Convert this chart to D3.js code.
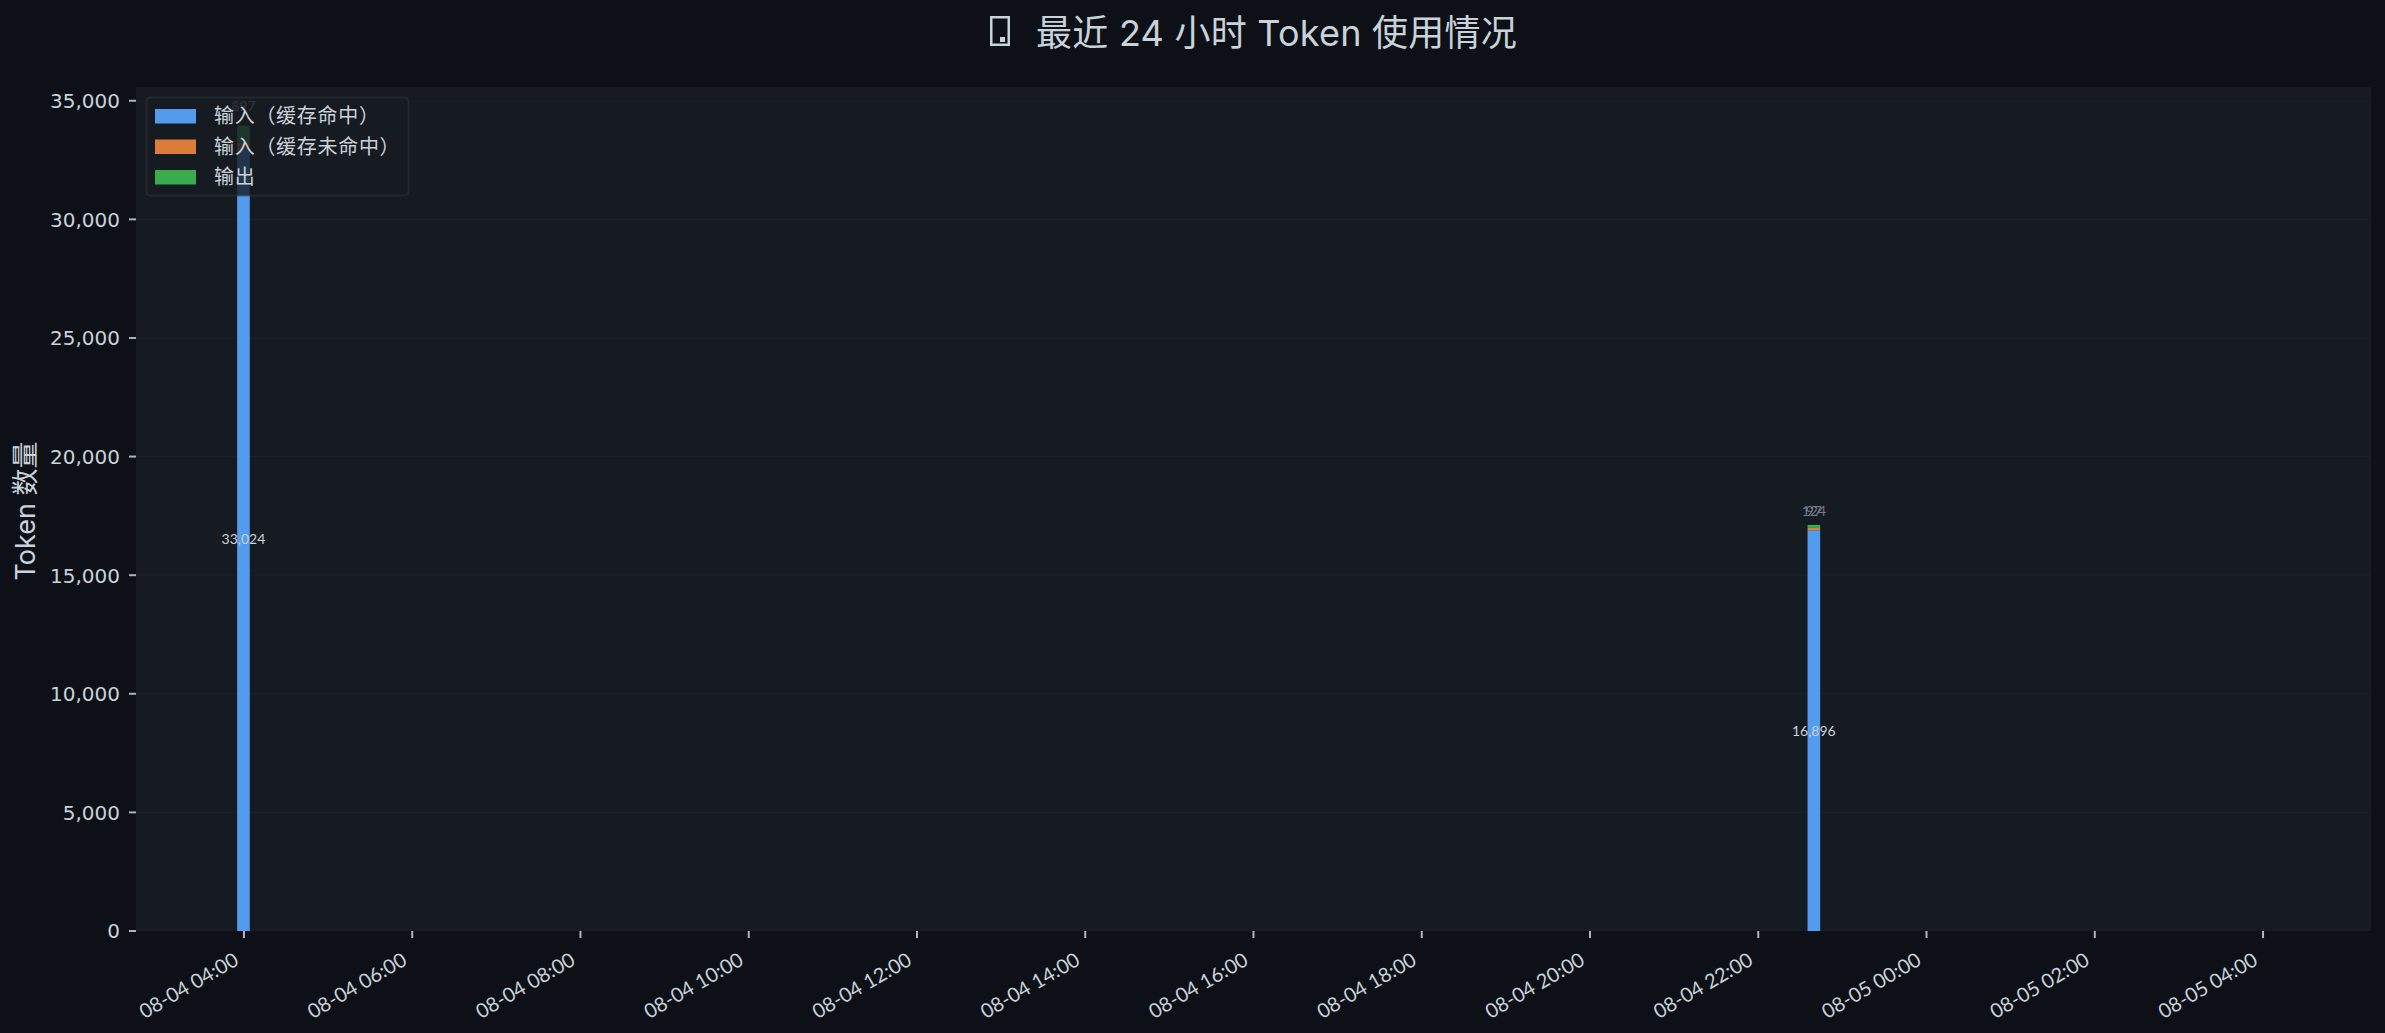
<!DOCTYPE html>
<html>
<head>
<meta charset="utf-8">
<script src="https://cdn.jsdelivr.net/npm/d3@7"></script>
<style>
  html, body { margin: 0; padding: 0; background: #0d1117; }
  svg { display: block; }
  .geo { font-family: Lato, "Noto Sans CJK SC", sans-serif; }
  .wide { font-family: Inter, "Noto Sans CJK SC", sans-serif; font-weight: 400; }
  .cjk { font-family: "DejaVu Sans", "Noto Sans CJK SC", sans-serif; }
</style>
</head>
<body>
<div id="chart"></div>
<script>
// values
const times = ["2025-08-04T04:00", "2025-08-04T22:40"];
const cacheHit = [33024, 16896];
const cacheMiss = [227, 97];
const output = [697, 124];
const seriesNames = ["输入（缓存命中）", "输入（缓存未命中）", "输出"];
const seriesKeys = ["hit", "miss", "out"];
const seriesColors = ["#539bec", "#db7c3b", "#3aac4d"];
const yTicks = [0, 5000, 10000, 15000, 20000, 25000, 30000, 35000];
const xDomain = ["2025-08-04T02:43", "2025-08-05T05:17"];
const yMax = 35580;
const barMinutes = 9.3;

const width = 2385, height = 1033;
const margin = { top: 87, right: 14, bottom: 102, left: 136 };
const parse = d3.utcParse("%Y-%m-%dT%H:%M");

const rows = times.map((t, i) => ({
  time: parse(t), hit: cacheHit[i], miss: cacheMiss[i], out: output[i]
}));

const svg = d3.select("#chart").append("svg")
  .attr("width", width)
  .attr("height", height);

const x = d3.scaleUtc()
  .domain(xDomain.map(parse))
  .range([margin.left, width - margin.right]);

const y = d3.scaleLinear()
  .domain([0, yMax])
  .range([height - margin.bottom, margin.top]);

// plot background
svg.append("rect")
  .attr("x", margin.left)
  .attr("y", margin.top)
  .attr("width", width - margin.left - margin.right)
  .attr("height", height - margin.top - margin.bottom)
  .attr("fill", "#161b22");

// grid
svg.append("g")
  .selectAll("line")
  .data(yTicks.slice(1))
  .join("line")
  .attr("x1", margin.left)
  .attr("x2", width - margin.right)
  .attr("y1", d => y(d))
  .attr("y2", d => y(d))
  .attr("stroke", "#21262d")
  .attr("stroke-opacity", 0.5)
  .attr("stroke-width", 1);

// stacked bars
const stacked = d3.stack().keys(seriesKeys)(rows);
const barW = x(d3.utcMinute.offset(x.domain()[0], barMinutes)) - x(x.domain()[0]);

svg.append("g")
  .selectAll("g")
  .data(stacked)
  .join("g")
  .attr("fill", (d, i) => seriesColors[i])
  .selectAll("rect")
  .data(d => d)
  .join("rect")
  .attr("x", d => x(d.data.time) - barW / 2 - 0.5)
  .attr("width", barW)
  .attr("y", d => y(d[1]))
  .attr("height", d => y(d[0]) - y(d[1]));

// value labels: big series in the middle of its bar, the small ones above the stack
const fmt = d3.format(",");
const labels = svg.append("g")
  .attr("class", "geo")
  .attr("text-anchor", "middle")
  .attr("font-size", 14);

labels.selectAll("text.mid")
  .data(stacked[0])
  .join("text")
  .attr("class", "mid")
  .attr("x", d => x(d.data.time) - 0.5)
  .attr("y", d => y(d[1] / 2))
  .attr("dy", "0.35em")
  .attr("fill", "#c9d1d9")
  .text(d => fmt(d[1] - d[0]));

const topOffsets = [20, 14];
[stacked[1], stacked[2]].forEach(s => {
  labels.append("g")
    .selectAll("text")
    .data(s)
    .join("text")
    .attr("x", d => x(d.data.time) - 0.5)
    .attr("y", (d, i) => y(stacked[2][i][1]) - topOffsets[i])
    .attr("dy", "0.35em")
    .attr("fill", "#8b949e")
    .attr("fill-opacity", 0.8)
    .text(d => fmt(d[1] - d[0]));
});

// axes
const yAxis = d3.axisLeft(y).tickValues(yTicks).tickFormat(fmt).tickSize(7).tickPadding(9).offset(0);
const gy = svg.append("g")
  .attr("transform", `translate(${margin.left},0)`)
  .call(yAxis);
gy.select(".domain").remove();
gy.selectAll("line").attr("stroke", "#aeb5bd").attr("stroke-width", 2);
gy.selectAll("text")
  .attr("font-family", "DejaVu Sans")
  .attr("font-size", 20)
  .attr("fill", "#c9d1d9")
  .attr("dy", "0.37em");

const xAxis = d3.axisBottom(x)
  .ticks(d3.utcHour.every(2))
  .tickFormat(d3.utcFormat("%m-%d %H:%M"))
  .tickSize(7)
  .offset(0);
const gx = svg.append("g")
  .attr("transform", `translate(0,${height - margin.bottom})`)
  .call(xAxis);
gx.select(".domain").remove();
gx.selectAll("line").attr("stroke", "#aeb5bd").attr("stroke-width", 2);
gx.selectAll("text")
  .attr("font-family", "Lato")
  .attr("font-size", 20)
  .attr("fill", "#c9d1d9")
  .attr("text-anchor", "end")
  .attr("dy", 0)
  .attr("y", 0)
  .attr("transform", "translate(-4,33) rotate(-30)");

// legend sits on top of the marks
const legend = svg.append("g");
legend.append("rect")
  .attr("x", 146.5)
  .attr("y", 97.5)
  .attr("width", 262)
  .attr("height", 98)
  .attr("rx", 4)
  .attr("fill", "#161b22")
  .attr("fill-opacity", 0.8)
  .attr("stroke", "#30363d")
  .attr("stroke-opacity", 0.5)
  .attr("stroke-width", 2);

const legendRows = legend.selectAll("g")
  .data(seriesNames)
  .join("g")
  .attr("transform", (d, i) => `translate(155,${109 + i * 30.5})`);
legendRows.append("rect")
  .attr("width", 41)
  .attr("height", 14.5)
  .attr("fill", (d, i) => seriesColors[i]);
legendRows.append("text")
  .attr("class", "cjk")
  .attr("x", 59)
  .attr("y", 7)
  .attr("dy", "0.35em")
  .attr("font-size", 20)
  .attr("letter-spacing", 0.7)
  .attr("fill", "#c9d1d9")
  .text(d => d);

// phone icon in front of the title, the font here only has a plain outline for it
const icon = svg.append("g").attr("transform", "translate(990,16)");
icon.append("rect")
  .attr("x", 1.25)
  .attr("y", 1.25)
  .attr("width", 17.5)
  .attr("height", 27.5)
  .attr("fill", "none")
  .attr("stroke", "#c9d1d9")
  .attr("stroke-width", 2.5);
icon.append("rect")
  .attr("x", 10)
  .attr("y", 21)
  .attr("width", 5)
  .attr("height", 5)
  .attr("fill", "#c9d1d9");

// titles
svg.append("text")
  .attr("class", "wide")
  .attr("x", 1036)
  .attr("y", 33)
  .attr("dy", "0.35em")
  .attr("font-size", 36)
  .attr("letter-spacing", 0.25)
  .attr("fill", "#c9d1d9")
  .text("最近 24 小时 Token 使用情况");

svg.append("text")
  .attr("class", "wide")
  .attr("transform", "translate(26,511) rotate(-90)")
  .attr("dy", "0.35em")
  .attr("text-anchor", "middle")
  .attr("font-size", 27)
  .attr("fill", "#c9d1d9")
  .text("Token 数量");
</script>
</body>
</html>
